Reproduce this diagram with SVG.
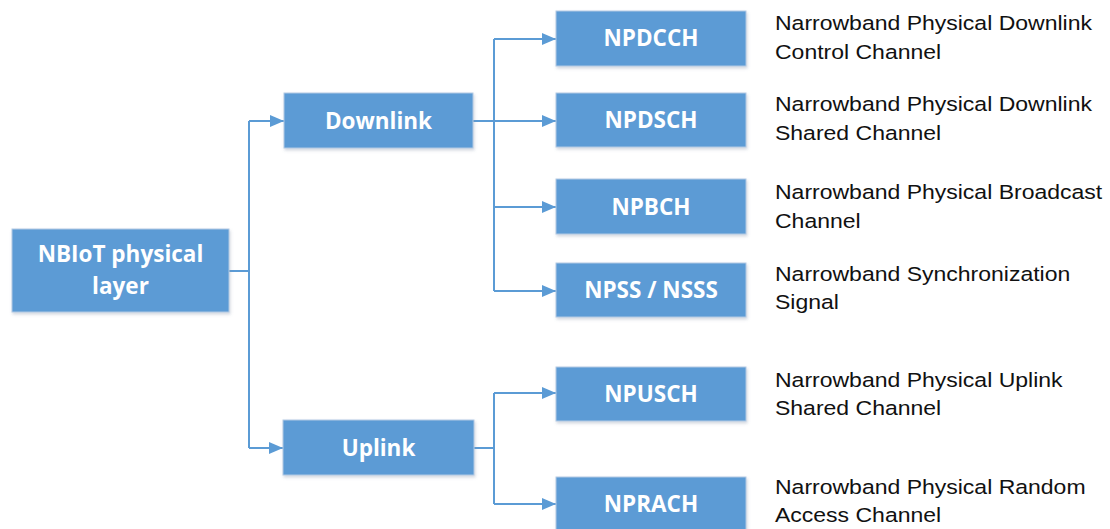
<svg xmlns="http://www.w3.org/2000/svg" width="1110" height="529" viewBox="0 0 1110 529">
  <style>
    .box { fill: #5b9bd5; stroke: #b3c9e3; stroke-width: 1; filter: url(#shadow); }
    .lbl { font-family: "Open Sans", "Liberation Sans", sans-serif; font-weight: bold; font-size: 22.5px; fill: #ffffff; text-anchor: middle; }
    .desc { font-family: "Liberation Sans", Arial, sans-serif; font-size: 19.5px; fill: #111111; }
    .wire { fill: none; stroke: #5b9bd5; stroke-width: 2; }
  </style>
  <defs>
    <filter id="shadow" x="-10%" y="-20%" width="130%" height="150%">
      <feDropShadow dx="1" dy="2" stdDeviation="1.5" flood-color="#7f8fa6" flood-opacity="0.35"/>
    </filter>
    <marker id="arrow" markerUnits="userSpaceOnUse" markerWidth="14" markerHeight="12" refX="14" refY="6" orient="auto">
      <path d="M0 0 L14 6 L0 12 Z" fill="#5b9bd5"/>
    </marker>
  </defs>
  <rect width="1110" height="529" fill="#ffffff"/>

  <!-- connectors -->
  <g id="connectors">
    <path class="wire" d="M229 271 H249"/>
    <path class="wire" d="M249 121 V448"/>
    <path class="wire" d="M249 121 H284" marker-end="url(#arrow)"/>
    <path class="wire" d="M249 448 H283" marker-end="url(#arrow)"/>

    <path class="wire" d="M473 121 H494"/>
    <path class="wire" d="M494 39 V291"/>
    <path class="wire" d="M494 39 H556" marker-end="url(#arrow)"/>
    <path class="wire" d="M494 121 H556" marker-end="url(#arrow)"/>
    <path class="wire" d="M494 207 H556" marker-end="url(#arrow)"/>
    <path class="wire" d="M494 291 H556" marker-end="url(#arrow)"/>

    <path class="wire" d="M474 448 H494"/>
    <path class="wire" d="M494 393 V504"/>
    <path class="wire" d="M494 393 H556" marker-end="url(#arrow)"/>
    <path class="wire" d="M494 504 H556" marker-end="url(#arrow)"/>
  </g>

  <!-- root -->
  <g id="root">
    <rect class="box" x="12" y="229" width="217" height="83"/>
    <text class="lbl" x="120.5" y="261.5">NBIoT physical</text>
    <text class="lbl" x="120.5" y="294">layer</text>
  </g>

  <!-- branches -->
  <g id="downlink">
    <rect class="box" x="284" y="93" width="189" height="55"/>
    <text class="lbl" x="378.5" y="128.5">Downlink</text>
  </g>
  <g id="uplink">
    <rect class="box" x="283" y="420" width="191" height="55"/>
    <text class="lbl" x="378.5" y="455.5">Uplink</text>
  </g>

  <!-- channels -->
  <g id="npdcch">
    <rect class="box" x="556" y="11" width="190" height="55"/>
    <text class="lbl" x="651" y="46">NPDCCH</text>
  </g>
  <g id="npdsch">
    <rect class="box" x="556" y="93" width="190" height="54"/>
    <text class="lbl" x="651" y="128">NPDSCH</text>
  </g>
  <g id="npbch">
    <rect class="box" x="556" y="179" width="190" height="55"/>
    <text class="lbl" x="651" y="214.5">NPBCH</text>
  </g>
  <g id="npss">
    <rect class="box" x="556" y="263" width="190" height="54"/>
    <text class="lbl" x="651" y="298">NPSS / NSSS</text>
  </g>
  <g id="npusch">
    <rect class="box" x="556" y="367" width="190" height="54"/>
    <text class="lbl" x="651" y="402">NPUSCH</text>
  </g>
  <g id="nprach">
    <rect class="box" x="556" y="477" width="190" height="55"/>
    <text class="lbl" x="651" y="512">NPRACH</text>
  </g>

  <!-- descriptions, set slightly wide -->
  <g id="descriptions" transform="translate(775 0) scale(1.18 1)">
    <text class="desc" x="0" y="30">Narrowband Physical Downlink</text>
    <text class="desc" x="0" y="59">Control Channel</text>
    <text class="desc" x="0" y="111">Narrowband Physical Downlink</text>
    <text class="desc" x="0" y="140">Shared Channel</text>
    <text class="desc" x="0" y="199">Narrowband Physical Broadcast</text>
    <text class="desc" x="0" y="228">Channel</text>
    <text class="desc" x="0" y="281">Narrowband Synchronization</text>
    <text class="desc" x="0" y="309">Signal</text>
    <text class="desc" x="0" y="387">Narrowband Physical Uplink</text>
    <text class="desc" x="0" y="415">Shared Channel</text>
    <text class="desc" x="0" y="494">Narrowband Physical Random</text>
    <text class="desc" x="0" y="522">Access Channel</text>
  </g>
</svg>
